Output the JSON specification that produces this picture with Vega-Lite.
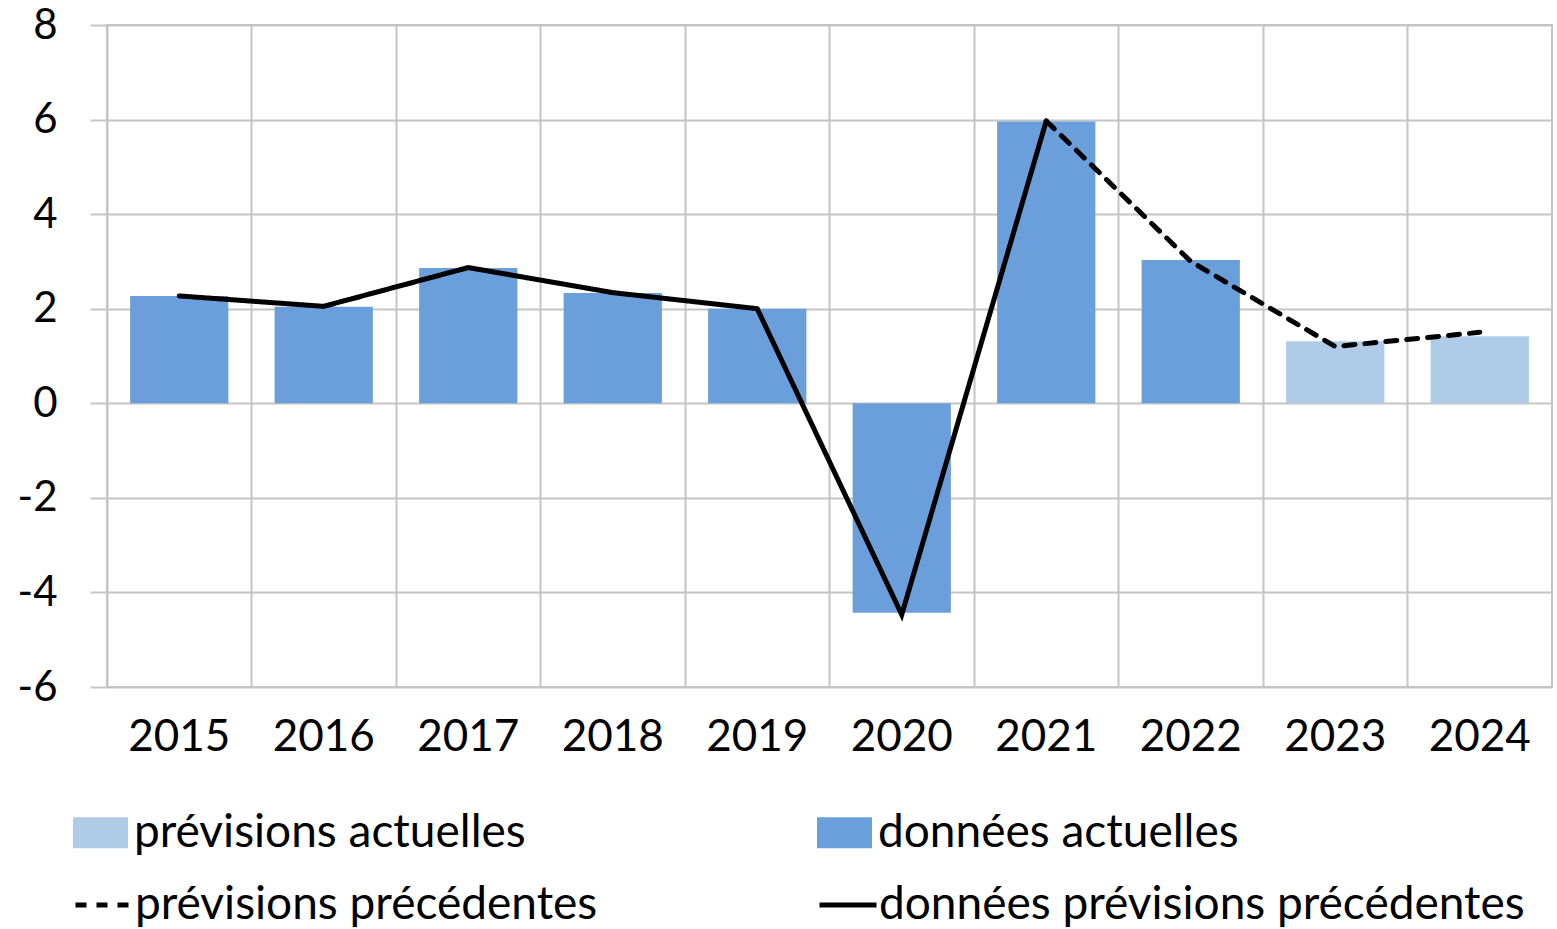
{
  "$schema": "https://vega.github.io/schema/vega-lite/v6.json",
  "width": 1445,
  "height": 662,
  "autosize": {"type": "none"},
  "padding": {"left": 107, "top": 25, "right": 5, "bottom": 242},
  "background": "white",
  "config": {
    "font": "Lato",
    "view": {"stroke": "#c4c4c4", "strokeWidth": 2},
    "axis": {"labelFont": "Lato", "labelColor": "#000000"},
    "legend": {"labelFont": "Lato", "labelColor": "#000000"}
  },
  "datasets": {
    "bars": [
      {"year": "2015", "value": 2.27, "type": "données actuelles"},
      {"year": "2016", "value": 2.04, "type": "données actuelles"},
      {"year": "2017", "value": 2.86, "type": "données actuelles"},
      {"year": "2018", "value": 2.33, "type": "données actuelles"},
      {"year": "2019", "value": 2.0, "type": "données actuelles"},
      {"year": "2020", "value": -4.43, "type": "données actuelles"},
      {"year": "2021", "value": 5.96, "type": "données actuelles"},
      {"year": "2022", "value": 3.03, "type": "données actuelles"},
      {"year": "2023", "value": 1.31, "type": "prévisions actuelles"},
      {"year": "2024", "value": 1.42, "type": "prévisions actuelles"}
    ],
    "lines": [
      {"year": "2015", "value": 2.27, "series": "données prévisions précédentes"},
      {"year": "2016", "value": 2.05, "series": "données prévisions précédentes"},
      {"year": "2017", "value": 2.87, "series": "données prévisions précédentes"},
      {"year": "2018", "value": 2.34, "series": "données prévisions précédentes"},
      {"year": "2019", "value": 2.0, "series": "données prévisions précédentes"},
      {"year": "2020", "value": -4.47, "series": "données prévisions précédentes"},
      {"year": "2021", "value": 5.97, "series": "données prévisions précédentes"},
      {"year": "2021", "value": 5.97, "series": "prévisions précédentes"},
      {"year": "2022", "value": 3.0, "series": "prévisions précédentes"},
      {"year": "2023", "value": 1.2, "series": "prévisions précédentes"},
      {"year": "2024", "value": 1.5, "series": "prévisions précédentes"}
    ]
  },
  "encoding": {
    "x": {
      "field": "year",
      "type": "ordinal",
      "scale": {"paddingInner": 0, "paddingOuter": 0},
      "axis": {
        "title": null,
        "labelAngle": 0,
        "labelFontSize": 44,
        "labelPadding": 28,
        "ticks": false,
        "domain": false,
        "grid": true,
        "bandPosition": 0,
        "gridColor": "#c4c4c4",
        "gridWidth": 2
      }
    },
    "y": {
      "field": "value",
      "type": "quantitative",
      "scale": {"domain": [-6, 8], "nice": false, "zero": false},
      "axis": {
        "title": null,
        "values": [-6, -4, -2, 0, 2, 4, 6, 8],
        "labelExpr": "datum.value < 0 ? '-' + abs(datum.value) : '' + datum.value",
        "labelFontSize": 42,
        "labelPadding": 33,
        "tickSize": 17,
        "tickColor": "#c4c4c4",
        "tickWidth": 2,
        "domain": false,
        "grid": true,
        "gridColor": "#c4c4c4",
        "gridWidth": 2
      }
    }
  },
  "layer": [
    {
      "data": {"name": "bars"},
      "mark": {"type": "bar", "width": {"band": 0.68}},
      "encoding": {
        "color": {
          "field": "type",
          "type": "nominal",
          "scale": {
            "domain": ["prévisions actuelles", "données actuelles"],
            "range": ["#aecbe8", "#6b9fdb"]
          },
          "legend": {
            "title": null,
            "orient": "none",
            "legendX": -34,
            "legendY": 780,
            "direction": "horizontal",
            "columns": 2,
            "columnPadding": 291,
            "padding": 0,
            "labelFontSize": 46,
            "labelOffset": 6,
            "labelLimit": 800,
            "symbolType": "M-1,-0.56H1V0.56H-1Z",
            "symbolSize": 3025,
            "symbolStrokeWidth": 0,
            "symbolOpacity": 1
          }
        }
      }
    },
    {
      "data": {"name": "lines"},
      "mark": {"type": "line", "color": "#000000", "strokeWidth": 5, "strokeCap": "round"},
      "encoding": {
        "strokeDash": {
          "field": "series",
          "type": "nominal",
          "scale": {
            "domain": ["prévisions précédentes", "données prévisions précédentes"],
            "range": [[11, 10], [1, 0]]
          },
          "legend": {
            "title": null,
            "orient": "none",
            "legendX": -34,
            "legendY": 849,
            "direction": "horizontal",
            "columns": 2,
            "columnPadding": 211,
            "padding": 0,
            "labelFontSize": 46,
            "labelOffset": 0,
            "labelLimit": 800,
            "symbolType": "stroke",
            "symbolSize": 3249,
            "symbolStrokeWidth": 5,
            "symbolStrokeColor": "#000000"
          }
        }
      }
    }
  ]
}
